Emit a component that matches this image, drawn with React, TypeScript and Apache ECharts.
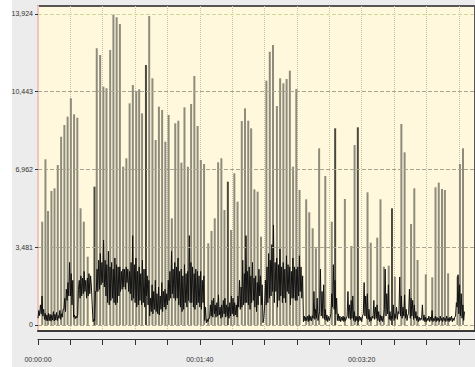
import React, { useEffect, useRef } from 'react';
import * as echarts from 'echarts';

// Y-axis tick values (labelled)
const yTicks: number[] = [0, 3481, 6962, 10443, 13924];
// X-axis labelled seconds
const xLabelSeconds: number[] = [0, 100, 200];

// Grey spikes: [seconds, value]
const greySpikes: [number, number][] = [
  [2.6, 4625], [4.6, 7418], [6.2, 5104], [8.3, 5999], [10.2, 6119], [12.2, 7163],
  [14.3, 8430], [16.3, 8954], [18.3, 9326], [20.3, 10150], [22.3, 9433], [24.3, 9281],
  [26.3, 5224], [28.3, 4625], [30.7, 3058], [36.3, 12388], [38.4, 12088], [40.4, 10670],
  [42.3, 10600], [44.6, 12312], [46.6, 13924], [48.6, 13775], [50.6, 13476], [52.6, 7087],
  [54.6, 7463], [56.6, 9925], [58.6, 10745], [60.7, 10445], [62.5, 10552], [64.3, 9478],
  [68.7, 13834], [70.7, 11045], [72.7, 8282], [74.7, 9773], [76.7, 9626], [78.7, 8207],
  [80.7, 9402], [82.7, 4777], [84.8, 9030], [86.7, 9147], [88.6, 7267], [90.5, 9745],
  [92.6, 7087], [94.6, 9894], [96.6, 11148], [98.6, 8909], [100.6, 7387], [102.6, 7208],
  [105.2, 3658], [107.2, 4208], [109.2, 4777], [111.3, 7284], [113.3, 7463], [115.2, 5149],
  [119.3, 4253], [121.3, 6791], [123.3, 5522], [125.9, 9133], [127.9, 9700], [129.9, 9147],
  [131.7, 8805], [133.7, 6074], [135.7, 5970], [137.8, 3955], [141.1, 10940], [143.2, 12238],
  [145.2, 12536], [147.6, 9806], [149.6, 11045], [151.6, 10820], [153.6, 11014], [155.6, 11387],
  [157.6, 7087], [159.6, 10567], [161.6, 6044], [165.7, 5627], [167.6, 5045], [169.7, 4329],
  [171.7, 3434], [173.7, 7911], [177.5, 6671], [181.5, 4625], [189.6, 5641], [193.6, 3537],
  [195.6, 8059], [203.6, 5940], [205.6, 3686], [209.6, 3910], [211.6, 5627], [213.7, 2611],
  [216.7, 2656], [220.5, 2164], [224.5, 8999], [226.5, 7731], [230.5, 4522], [232.5, 6119],
  [234.5, 2910], [239.6, 2268], [243.6, 2134], [245.6, 6164], [247.6, 6372], [249.6, 6089],
  [251.4, 6044], [253.4, 2313], [259.2, 2164], [260.7, 7208], [262.6, 7911],
];

// Darker spikes: [seconds, value]
const darkSpikes: [number, number][] = [
  [34.9, 6193], [66.7, 11640], [117.3, 6417], [183.6, 8805], [197.6, 8850], [218.7, 5224],
];

// Black signal, one reading per half second from 0 s
const noise: number[] = [
  300, 650, 420, 900, 500, 1300, 400, 700, 250, 520, 200, 450, 180, 520, 200, 480, 170, 450, 220, 600,
  180, 480, 220, 560, 200, 420, 300, 650, 250, 500, 350, 700, 700, 1200, 600, 1600, 1100, 1900, 1300, 2800,
  1300, 2300, 900, 2000, 350, 450, 280, 400, 320, 450, 1600, 2000, 1200, 2200, 1300, 2100, 1400, 2400, 1500, 2000,
  1200, 2100, 1300, 2300, 1400, 2200, 1700, 900, 150, 250, 200, 1500, 1500, 2500, 1500, 2900, 1600, 3200, 1800, 2800,
  1900, 3800, 1700, 2900, 1300, 2700, 1000, 3300, 900, 2600, 1100, 2800, 1200, 2500, 1000, 3000, 900, 2700, 1000, 2600,
  1300, 2600, 1500, 2400, 1600, 2500, 1700, 2500, 1600, 2600, 1900, 2500, 1500, 2400, 1400, 2800, 1100, 4000, 1200, 2700,
  1000, 3000, 800, 2400, 900, 2600, 1100, 2300, 900, 2900, 1000, 2500, 800, 2500, 1300, 2200, 900, 2000, 400, 1200,
  600, 1800, 500, 1500, 700, 2000, 600, 1400, 500, 1700, 450, 1300, 700, 1900, 600, 1500, 800, 1600, 700, 1400,
  900, 2000, 1100, 2400, 1200, 3300, 1400, 2500, 1200, 2800, 1100, 2600, 1200, 3000, 900, 2400, 800, 2500, 600, 2200,
  700, 2700, 1000, 2300, 800, 2400, 1100, 4000, 1000, 2800, 1000, 2600, 800, 2300, 700, 2500, 900, 2400, 1000, 2200,
  800, 2400, 700, 2000, 1000, 2200, 200, 800, 100, 250, 150, 300, 300, 900, 400, 1100, 350, 1200, 500, 900,
  350, 1000, 400, 1350, 450, 800, 300, 900, 350, 1100, 500, 1200, 350, 900, 400, 800, 300, 1000, 400, 1300,
  500, 1200, 400, 1000, 450, 900, 350, 1300, 800, 2000, 700, 1700, 800, 2900, 900, 2300, 1000, 4000, 1000, 2400,
  900, 2600, 700, 2200, 1000, 2800, 1100, 2100, 800, 2200, 600, 1900, 900, 2500, 1300, 2200, 900, 1800, 100, 300,
  800, 2000, 900, 2600, 1000, 3200, 1200, 2900, 1300, 3600, 1500, 4480, 1000, 2800, 1500, 3000, 800, 2700, 1100, 3400,
  1300, 2600, 1000, 2800, 1200, 2500, 1000, 3100, 1500, 2700, 1400, 2600, 900, 2400, 1200, 3000, 1200, 2600, 1100, 2500,
  1100, 2600, 1300, 3100, 1500, 2600, 1200, 2200, 150, 400, 180, 350, 200, 400, 150, 450, 200, 380, 180, 420,
  300, 1500, 250, 700, 300, 1200, 200, 450, 600, 2500, 400, 1500, 300, 1800, 250, 700, 200, 450, 150, 380,
  200, 350, 500, 1400, 800, 2700, 700, 2000, 500, 1200, 200, 500, 180, 400, 150, 350, 200, 400, 150, 350,
  200, 300, 400, 1500, 300, 900, 250, 1100, 300, 1300, 200, 600, 150, 400, 200, 350, 150, 400, 200, 350,
  150, 400, 500, 1900, 400, 1300, 300, 1400, 250, 700, 150, 350, 200, 400, 300, 1100, 250, 800, 300, 900,
  200, 600, 150, 450, 200, 400, 150, 350, 700, 2500, 400, 1400, 500, 1800, 250, 600, 200, 400, 300, 900,
  200, 500, 300, 800, 250, 600, 500, 2150, 400, 1300, 300, 800, 400, 1350, 300, 700, 200, 450, 500, 1600,
  300, 1200, 400, 1100, 250, 900, 300, 600, 200, 400, 150, 350, 200, 300, 250, 900, 200, 450, 150, 350,
  150, 300, 200, 400, 150, 350, 200, 650, 150, 300, 200, 400, 150, 350, 200, 300, 150, 400, 200, 300,
  150, 350, 200, 300, 150, 400, 200, 300, 150, 350, 200, 400, 150, 300, 200, 350, 400, 1000, 800, 2250,
  500, 1800, 400, 1400, 300, 900, 200, 600,
];

function pad(n: number): string {
  return n < 10 ? '0' + n : String(n);
}
function fmtTime(s: number): string {
  const h = Math.floor(s / 3600);
  const m = Math.floor((s % 3600) / 60);
  const sec = Math.floor(s % 60);
  return pad(h) + ':' + pad(m) + ':' + pad(sec);
}

export default function App() {
  const ref = useRef<HTMLDivElement>(null);
  useEffect(() => {
    if (!ref.current) return;
    const chart = echarts.init(ref.current, null, { renderer: 'svg' });
    const font = 'Liberation Sans, Arial, sans-serif';
    const spikeData: any[] = [
      ...greySpikes.map((p) => ({ value: p })),
      ...darkSpikes.map((p) => ({ value: p, itemStyle: { color: '#4a483f' } })),
    ];
    chart.setOption({
      animation: false,
      backgroundColor: '#ececec',
      graphic: [
        { type: 'rect', left: 0, top: 0, z: -10, shape: { width: 12, height: 367 }, style: { fill: '#ffffff' } },
      ],
      grid: {
        left: 38, right: -12, top: 6, bottom: 36,
        show: true, backgroundColor: '#fff8dc', borderColor: '#555555', borderWidth: 2,
      },
      xAxis: [
        {
          type: 'value', min: 0, max: 270, interval: 20,
          axisLine: { show: true, onZero: false, lineStyle: { color: '#3a3a3a', width: 2 } },
          axisTick: { show: false }, axisLabel: { show: false },
          splitLine: { show: true, lineStyle: { color: '#c4c0aa', type: 'dotted', width: 1 } },
        },
        {
          type: 'value', position: 'bottom', offset: 8, min: 0, max: 270, interval: 20,
          axisLine: { show: true, onZero: false, lineStyle: { color: '#333333', width: 1 } },
          axisTick: { show: true, length: 6, lineStyle: { color: '#333333' } },
          axisLabel: {
            show: true, margin: 17, fontSize: 7, color: '#333333', fontFamily: font,
            showMinLabel: true, showMaxLabel: false,
            formatter: (v: number) => (xLabelSeconds.indexOf(v) >= 0 ? fmtTime(v) : ''),
          },
          splitLine: { show: false },
        },
      ],
      yAxis: {
        type: 'value', min: -269, max: 14282,
        axisLine: { show: true, onZero: false, lineStyle: { color: '#eec4c4', width: 2 } },
        axisTick: { show: true, length: 3, customValues: yTicks, lineStyle: { color: '#333333' } },
        axisLabel: {
          customValues: yTicks, fontSize: 7, color: '#333333', margin: 5, fontFamily: font,
          formatter: (v: number) => v.toLocaleString('en-US'),
        },
        splitLine: { show: false },
      },
      series: [
        {
          type: 'bar', xAxisIndex: 0, yAxisIndex: 0, barWidth: 2, z: 2,
          itemStyle: { color: '#8e8b7c' },
          data: spikeData,
          markLine: {
            silent: true, symbol: ['none', 'none'], label: { show: false },
            lineStyle: { type: 'dashed', width: 1, color: '#a8a592' },
            data: yTicks.map((v) => ({
              yAxis: v,
              lineStyle: { color: v === 13924 ? '#cdd89a' : '#a8a592', type: 'dashed', width: 1 },
            })),
          },
        },
        {
          type: 'line', xAxisIndex: 0, yAxisIndex: 0, z: 3, symbol: 'none',
          lineStyle: { color: '#111111', width: 1 },
          data: noise.map((v, i) => [i * 0.5, v]),
        },
      ],
    });
    return () => chart.dispose();
  }, []);
  return (
    <div
      ref={ref}
      style={{ position: 'fixed', left: 0, top: 0, width: 475, height: 367 }}
    />
  );
}
